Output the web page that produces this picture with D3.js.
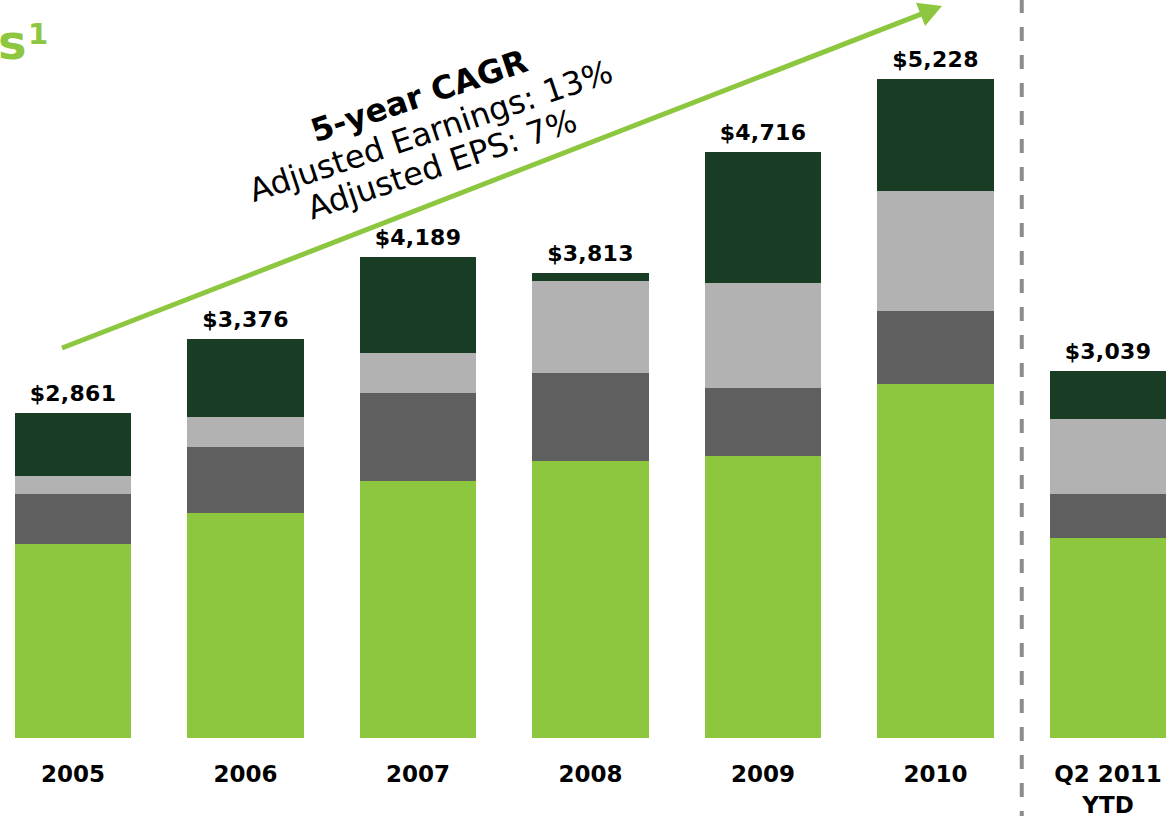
<!DOCTYPE html>
<html>
<head>
<meta charset="utf-8">
<script src="https://cdn.jsdelivr.net/npm/d3@7"></script>
<style>
  html, body { margin: 0; padding: 0; background: #ffffff; }
  svg { display: block; }
</style>
</head>
<body>
<div id="chart"></div>
<script>
// ---- Data ($ millions) ----
const categories = ["2005", "2006", "2007", "2008", "2009", "2010", "Q2 2011 YTD"];
const canadianPC = [1617, 1875, 2142, 2308, 2350, 2950, 1667];   // bottom, bright green
const wealthMgmt = [417, 550, 733, 733, 567, 608, 367];          // dark grey
const usPC       = [150, 250, 333, 767, 875, 1000, 625];         // light grey
const wholesale  = [525, 650, 800, 67, 1092, 933, 400];          // top, dark green
const totals     = [2861, 3376, 4189, 3813, 4716, 5228, 3039];   // value labels
const seriesNames = ["Canadian P&C", "Wealth Management", "U.S. P&C", "Wholesale"];
const annotationLines = ["5-year CAGR", "Adjusted Earnings: 13%", "Adjusted EPS: 7%"];

// ---- Layout ----
const W = 1173, H = 816;
const baseY = 738;
const colors = ["#8DC63F", "#5F5F5F", "#B2B2B2", "#183D24"];
const FONT = "'DejaVu Sans', Verdana, sans-serif";

const rows = categories.map((c, i) => ({
  cat: c,
  "Canadian P&C": canadianPC[i],
  "Wealth Management": wealthMgmt[i],
  "U.S. P&C": usPC[i],
  "Wholesale": wholesale[i],
  total: totals[i]
}));

const svg = d3.select("#chart").append("svg")
  .attr("width", W).attr("height", H)
  .attr("viewBox", `0 0 ${W} ${H}`);

const x = d3.scaleBand()
  .domain(categories)
  .range([-13.25, 1194.25])
  .paddingInner(0.3275)
  .paddingOuter(0.16375);

const y = d3.scaleLinear()
  .domain([0, 6150])
  .range([baseY, 0]);

const stack = d3.stack().keys(seriesNames);
const stacked = stack(rows);

// ---- Bars ----
svg.append("g").selectAll("g")
  .data(stacked)
  .join("g")
  .attr("fill", (d, i) => colors[i])
  .selectAll("rect")
  .data(d => d)
  .join("rect")
  .attr("shape-rendering", "crispEdges")
  .attr("x", d => x(d.data.cat))
  .attr("width", x.bandwidth())
  .attr("y", d => y(d[1]))
  .attr("height", d => y(d[0]) - y(d[1]));

// ---- Total labels ----
const fmt = d3.format("$,");
const topOf = rows.map((r, i) => d3.sum(seriesNames, k => r[k]));
svg.append("g").selectAll("text")
  .data(rows)
  .join("text")
  .attr("x", d => x(d.cat) + x.bandwidth() / 2)
  .attr("y", (d, i) => y(topOf[i]) - 12)
  .attr("text-anchor", "middle")
  .attr("font-family", FONT)
  .attr("font-weight", "bold")
  .attr("font-size", 22)
  .attr("letter-spacing", 0.3)
  .attr("fill", "#000")
  .text(d => fmt(d.total));

// ---- Category axis ----
const axis = svg.append("g")
  .attr("transform", `translate(0,${baseY})`)
  .call(d3.axisBottom(x).tickSize(0).tickPadding(44));
axis.select(".domain").remove();
axis.selectAll("text")
  .attr("dy", "0")
  .attr("font-family", FONT)
  .attr("font-weight", "bold")
  .attr("font-size", 23)
  .attr("fill", "#000")
  .each(function (d) {
    if (d.indexOf("YTD") >= 0) {
      const t = d3.select(this);
      const parts = ["Q2 2011", "YTD"];
      t.text(null);
      parts.forEach((p, j) => {
        t.append("tspan").attr("x", 0).attr("dy", j === 0 ? 0 : 31).text(p);
      });
    }
  });

// ---- Dashed separator ----
const sepX = (x("2010") + x.bandwidth() + x("Q2 2011 YTD")) / 2;
svg.append("line")
  .attr("x1", sepX).attr("x2", sepX)
  .attr("y1", -1).attr("y2", H)
  .attr("stroke", "#8C8C8C")
  .attr("stroke-width", 4)
  .attr("stroke-dasharray", "14,14");

// ---- Growth arrow ----
const a0 = [62, 348], a1 = [942, 6];
const dx = a1[0] - a0[0], dy = a1[1] - a0[1];
const len = Math.hypot(dx, dy);
const ux = dx / len, uy = dy / len;
const headL = 23, headW = 12.5;
const bx = a1[0] - ux * headL, by = a1[1] - uy * headL;
svg.append("line")
  .attr("x1", a0[0]).attr("y1", a0[1])
  .attr("x2", bx + ux * 2).attr("y2", by + uy * 2)
  .attr("stroke", "#8DC63F")
  .attr("stroke-width", 5);
svg.append("path")
  .attr("d", d3.line()([
    a1,
    [bx - uy * headW, by + ux * headW],
    [bx + uy * headW, by - ux * headW]
  ]) + "Z")
  .attr("fill", "#8DC63F");

// ---- Rotated CAGR annotation ----
const ann = svg.append("g")
  .attr("transform", "translate(422.5,106.5) rotate(-18.6)");
ann.selectAll("text")
  .data(annotationLines)
  .join("text")
  .attr("x", 0)
  .attr("y", (d, i) => [0, 37, 72][i])
  .attr("text-anchor", "middle")
  .attr("font-family", FONT)
  .attr("font-weight", (d, i) => i === 0 ? "bold" : "normal")
  .attr("font-size", 32)
  .attr("fill", "#000")
  .text(d => d);

// ---- Clipped title fragment (top-left) ----
const title = svg.append("text")
  .attr("x", -2).attr("y", 59)
  .attr("font-family", FONT)
  .attr("font-weight", "bold")
  .attr("font-size", 48)
  .attr("fill", "#8DC63F");
title.append("tspan").text("s");
title.append("tspan")
  .attr("x", 28).attr("y", 44)
  .attr("font-size", 29)
  .text("1");
</script>
</body>
</html>
